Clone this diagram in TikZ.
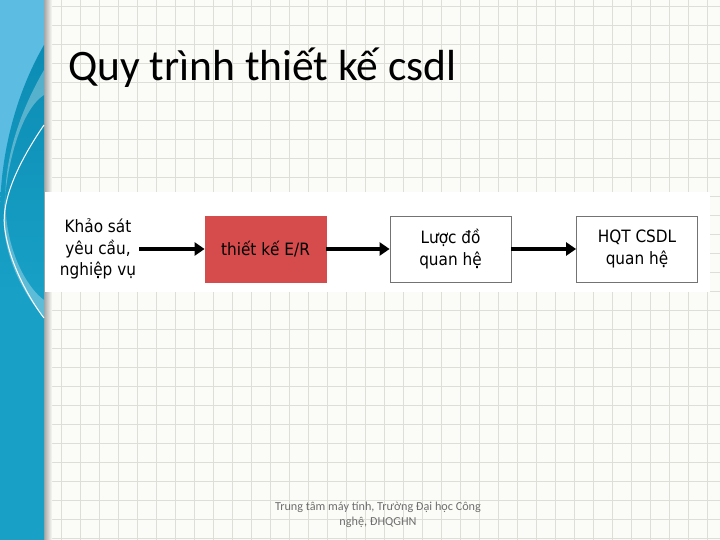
\documentclass[tikz,border=0pt]{standalone}
\usepackage{fontspec}
\setmainfont{Carlito}
\newfontfamily\flowfont{DejaVu Sans Condensed}
\usetikzlibrary{positioning,arrows.meta}
\definecolor{paper}{RGB}{251,251,247}
\definecolor{gridgray}{RGB}{222,222,216}
\definecolor{bandlight}{RGB}{92,188,226}
\definecolor{banddark}{RGB}{24,160,198}
\definecolor{bandteal}{RGB}{12,140,180}
\definecolor{erred}{RGB}{214,76,76}
\definecolor{footgray}{RGB}{110,110,110}
\begin{document}
\begin{tikzpicture}[x=1pt,y=-1pt,
    gridline/.style={draw=gridgray, line width=0.6pt},
    flowbox/.style={draw=black!55, line width=0.8pt, fill=white, minimum width=121pt,
      minimum height=66pt, inner sep=0pt, align=center,
      font=\flowfont\fontsize{17}{22}\selectfont},
    flowarrow/.style={line width=3.8pt, -{Triangle[length=10pt,width=13pt]}}]
  \useasboundingbox (0,0) rectangle (720,540);
  \fill[paper] (0,0) rectangle (720,540);
  % grid paper
  \foreach \gx in {4.3,23.3,...,720} \draw[gridline] (\gx,0) -- (\gx,540);
  \foreach \gy in {6.7,25.7,...,540} \draw[gridline] (0,\gy) -- (720,\gy);
  % left band
  \shade[left color=black!35, right color=paper] (44,0) rectangle (52,540);
  \fill[bandlight] (0,0) rectangle (44,540);
  \shade[top color=bandteal, bottom color=banddark, middle color=banddark]
    (44,45) .. controls (18,90) and (0,150) .. (0,215) -- (0,540)
    -- (44,540) -- cycle;
  \fill[white, opacity=0.3] (44,70) .. controls (15,120) and (2,170) .. (6,215)
    .. controls (10,260) and (30,290) .. (44,300) -- (44,318)
    .. controls (20,290) and (2,250) .. (4,215) .. controls (5,170) and (20,110) .. (44,95) -- cycle;
  \draw[white, line width=1pt] (44,125) .. controls (20,160) and (0,200) .. (5,230)
    .. controls (10,265) and (30,300) .. (44,318);
  % title
  \node[anchor=base west, inner sep=0pt, font=\fontsize{43.5}{50}\selectfont] (title)
    at (68,81) {Quy trình thiết kế csdl};
  % diagram panel
  \fill[white] (45,192) rectangle (710,292);
  \node[align=center, font=\flowfont\fontsize{17}{21.5}\selectfont, inner sep=3pt]
    (survey) at (98,249) {Khảo sát\\yêu cầu,\\nghiệp vụ};
  \node[flowbox, fill=erred, draw=erred] (er) at (265.5,249) {thiết kế E/R};
  \node[flowbox] (schema) at (450.5,249) {Lược đồ\\quan hệ};
  \node[flowbox] (dbms) at (637,249) {HQT CSDL\\quan hệ};
  \draw[flowarrow] (survey.east) -- (er.west);
  \draw[flowarrow] (er.east) -- (schema.west);
  \draw[flowarrow] (schema.east) -- (dbms.west);
  % footer
  \node[align=center, text=footgray, font=\fontsize{12.2}{14.5}\selectfont] (footer)
    at (378,515) {Trung tâm máy tính, Trường Đại học Công\\nghệ, ĐHQGHN};
\end{tikzpicture}
\end{document}
